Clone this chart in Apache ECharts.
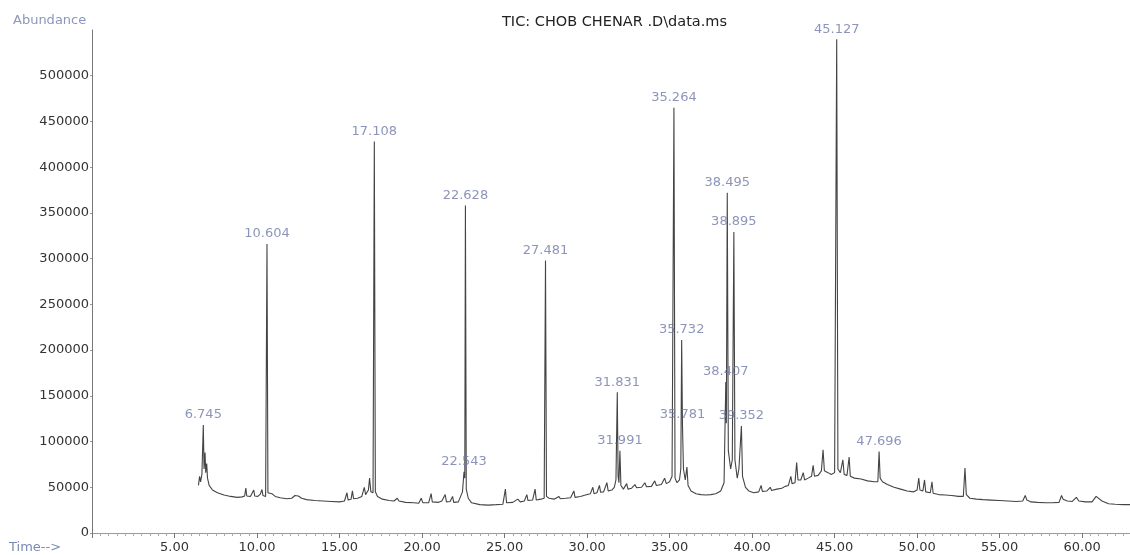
<!DOCTYPE html>
<html>
<head>
<meta charset="utf-8">
<script src="https://cdn.jsdelivr.net/npm/echarts@6.0.0/dist/echarts.min.js"></script>
<style>
  html, body { margin: 0; padding: 0; background: #fff; }
  #chart { width: 1130px; height: 555px; }
</style>
</head>
<body>
<div id="chart"></div>
<script>
// TIC trace, [retention time (min), abundance]
const ticTrace = [
  [6.45, 52000], [6.52, 62000], [6.58, 56000], [6.66, 64000], [6.745, 118000], [6.79, 70000],
  [6.85, 88000], [6.89, 66000], [6.95, 76000], [7.0, 60000], [7.1, 52000], [7.3, 47000],
  [7.6, 44000], [8.0, 41500], [8.4, 40000], [8.8, 39000], [9.1, 39500], [9.25, 40500],
  [9.32, 49000], [9.38, 40500], [9.6, 40000], [9.72, 41000], [9.8, 47000], [9.86, 40500],
  [10.05, 40000], [10.2, 42500], [10.3, 47500], [10.36, 41000], [10.52, 40000], [10.604, 316000],
  [10.66, 44000], [10.75, 42000], [10.9, 43000], [11.1, 40000], [11.4, 38500], [11.8, 37500],
  [12.1, 38000], [12.3, 41000], [12.5, 40500], [12.7, 38000], [13.0, 36500], [13.5, 35500],
  [14.0, 35000], [14.5, 34500], [15.0, 34000], [15.3, 35000], [15.45, 44000], [15.52, 36000],
  [15.7, 37000], [15.78, 46000], [15.85, 37500], [16.1, 38000], [16.35, 40000], [16.5, 50000],
  [16.58, 42000], [16.75, 47000], [16.82, 60000], [16.9, 45000], [17.03, 44000], [17.108, 428000],
  [17.17, 45000], [17.3, 40000], [17.6, 37000], [18.0, 35500], [18.3, 35000], [18.5, 38000],
  [18.6, 35000], [19.0, 33500], [19.5, 33000], [19.8, 32500], [19.95, 38000], [20.05, 33000],
  [20.4, 33000], [20.55, 43000], [20.62, 34000], [21.0, 33500], [21.2, 35000], [21.4, 42000],
  [21.48, 34000], [21.7, 34500], [21.85, 40000], [21.92, 33500], [22.2, 34000], [22.45, 45000],
  [22.543, 67000], [22.59, 60000], [22.628, 358000], [22.68, 48000], [22.8, 38000], [23.0, 33000],
  [23.5, 31000], [24.0, 30500], [24.5, 31000], [24.9, 31500], [25.05, 48000], [25.12, 33000],
  [25.5, 33500], [25.8, 37000], [25.95, 34000], [26.2, 35000], [26.35, 42000], [26.42, 35500],
  [26.7, 36000], [26.85, 48000], [26.92, 36000], [27.2, 37000], [27.4, 38000], [27.481, 298000],
  [27.54, 40000], [27.7, 38000], [28.0, 37000], [28.3, 40000], [28.38, 37500], [28.7, 38000],
  [29.0, 38500], [29.2, 46000], [29.27, 39000], [29.6, 40000], [29.9, 41500], [30.2, 43000],
  [30.35, 50000], [30.42, 43000], [30.6, 44000], [30.75, 52000], [30.82, 44500], [31.0, 45000],
  [31.2, 55000], [31.28, 46000], [31.5, 47000], [31.65, 50000], [31.75, 58000], [31.831, 154000],
  [31.88, 62000], [31.93, 55000], [31.991, 90000], [32.05, 52000], [32.2, 48000], [32.4, 54000],
  [32.48, 48000], [32.7, 49000], [32.9, 53000], [33.0, 49500], [33.3, 50000], [33.5, 55000],
  [33.6, 50500], [33.9, 51000], [34.1, 57000], [34.2, 52000], [34.5, 53000], [34.7, 60000],
  [34.8, 54000], [35.0, 56000], [35.15, 62000], [35.264, 465000], [35.33, 60000], [35.45, 55000],
  [35.6, 58000], [35.68, 70000], [35.732, 211000], [35.781, 118000], [35.84, 70000], [35.95, 58000],
  [36.05, 72000], [36.12, 52000], [36.3, 46000], [36.6, 43000], [36.9, 42000], [37.2, 41500],
  [37.5, 42000], [37.8, 43000], [38.1, 46000], [38.3, 55000], [38.407, 165000], [38.44, 120000],
  [38.495, 372000], [38.56, 90000], [38.7, 70000], [38.8, 80000], [38.895, 329000], [38.96, 80000],
  [39.1, 60000], [39.2, 70000], [39.352, 117000], [39.42, 62000], [39.6, 50000], [39.8, 46000],
  [40.1, 44000], [40.4, 45000], [40.55, 52000], [40.62, 45500], [40.9, 46000], [41.1, 50000],
  [41.18, 46500], [41.5, 48000], [41.8, 49000], [42.0, 51000], [42.2, 52000], [42.35, 62000],
  [42.42, 54000], [42.6, 55000], [42.7, 77000], [42.78, 58000], [42.95, 58000], [43.1, 66000],
  [43.18, 58000], [43.4, 60000], [43.6, 62000], [43.7, 74000], [43.78, 62000], [44.0, 63000],
  [44.2, 68000], [44.3, 91000], [44.38, 68000], [44.6, 66000], [44.8, 64000], [45.0, 66000],
  [45.127, 540000], [45.2, 70000], [45.35, 66000], [45.5, 80000], [45.58, 64000], [45.75, 63000],
  [45.88, 83000], [45.95, 62000], [46.2, 60000], [46.6, 59000], [47.0, 57000], [47.4, 56000],
  [47.62, 56000], [47.696, 89000], [47.76, 60000], [47.9, 56000], [48.2, 53000], [48.6, 50000],
  [49.0, 48000], [49.4, 46000], [49.8, 45000], [50.0, 47000], [50.1, 60000], [50.17, 47000],
  [50.35, 46000], [50.45, 58000], [50.52, 45000], [50.8, 44000], [50.9, 56000], [50.97, 43500],
  [51.3, 42000], [51.7, 41500], [52.1, 41000], [52.5, 40000], [52.8, 40000], [52.9, 71000],
  [52.98, 42000], [53.2, 38000], [53.6, 37000], [54.0, 36500], [54.5, 36000], [55.0, 35500],
  [55.5, 35000], [56.0, 34500], [56.4, 35000], [56.55, 41000], [56.65, 36000], [56.9, 34000],
  [57.3, 33500], [57.8, 33000], [58.2, 33000], [58.6, 33500], [58.75, 41000], [58.85, 37000],
  [59.1, 35000], [59.4, 34500], [59.65, 39000], [59.8, 35000], [60.2, 34000], [60.6, 34000],
  [60.85, 40000], [60.95, 38000], [61.2, 35000], [61.6, 32000], [62.0, 31500], [62.5, 31000],
  [62.9, 31000]
]

// labelled peaks
const peakTimes = [6.745, 10.604, 17.108, 22.543, 22.628, 27.481, 31.831, 31.991, 35.264,
  35.732, 35.781, 38.407, 38.495, 38.895, 39.352, 45.127, 47.696]
const peakHeights = [118000, 316000, 428000, 67000, 358000, 298000, 154000, 90000, 465000,
  211000, 118000, 165000, 372000, 329000, 117000, 540000, 89000]
const peakLabels = ['6.745', '10.604', '17.108', '22.543', '22.628', '27.481', '31.831', '31.991', '35.264',
  '35.732', '35.781', '38.407', '38.495', '38.895', '39.352', '45.127', '47.696']

const chartTitle = 'TIC: CHOB CHENAR .D\\data.ms'
const yName = 'Abundance'
const xName = 'Time-->'

const font = 'DejaVu Sans'

const chart = echarts.init(document.getElementById('chart'))

chart.setOption({
  animation: false,
  backgroundColor: '#fff',
  title: {
    text: chartTitle,
    left: 497,
    top: 10,
    textStyle: { fontFamily: font, fontSize: 14.5, fontWeight: 'normal', color: '#222' }
  },
  graphic: [
    {
      type: 'text', left: 13, top: 14,
      style: { text: yName, font: '13px "DejaVu Sans"', fill: '#8d97bb' }
    },
    {
      type: 'text', left: 9, top: 541,
      style: { text: xName, font: '13px "DejaVu Sans"', fill: '#7d89b4' }
    }
  ],
  grid: { left: 92, right: 0, top: 30, bottom: 22 },
  xAxis: {
    type: 'value',
    min: 0,
    max: 62.9,
    interval: 5,
    axisLine: { lineStyle: { color: '#9a9a9a', width: 1 } },
    axisTick: { show: true, length: 5, lineStyle: { color: '#777' } },
    minorTick: { show: true, splitNumber: 10, length: 3, lineStyle: { color: '#aaa' } },
    splitLine: { show: false },
    axisLabel: {
      showMinLabel: false,
      showMaxLabel: false,
      margin: 8,
      fontFamily: font,
      fontSize: 13,
      color: '#333',
      formatter: (v) => v.toFixed(2)
    }
  },
  yAxis: {
    type: 'value',
    min: 0,
    max: 550000,
    interval: 50000,
    axisLine: { show: true, lineStyle: { color: '#777', width: 1 } },
    axisTick: { show: true, length: 2, lineStyle: { color: '#999' } },
    splitLine: { show: false },
    axisLabel: {
      showMaxLabel: false,
      margin: 3,
      fontFamily: font,
      fontSize: 13,
      color: '#333',
      formatter: (v) => String(v)
    }
  },
  series: [
    {
      name: 'TIC',
      type: 'line',
      data: ticTrace,
      symbol: 'none',
      sampling: false,
      lineStyle: { color: '#444', width: 1.1 },
      z: 2
    },
    {
      name: 'peaks',
      type: 'scatter',
      data: peakTimes.map((t, i) => [t, peakHeights[i]]),
      symbolSize: 1,
      itemStyle: { color: 'rgba(0,0,0,0)' },
      label: {
        show: true,
        position: 'top',
        distance: 3,
        fontFamily: font,
        fontSize: 13,
        color: '#7079a8',
        formatter: (p) => peakLabels[p.dataIndex]
      },
      z: 3
    }
  ]
})
</script>
</body>
</html>
